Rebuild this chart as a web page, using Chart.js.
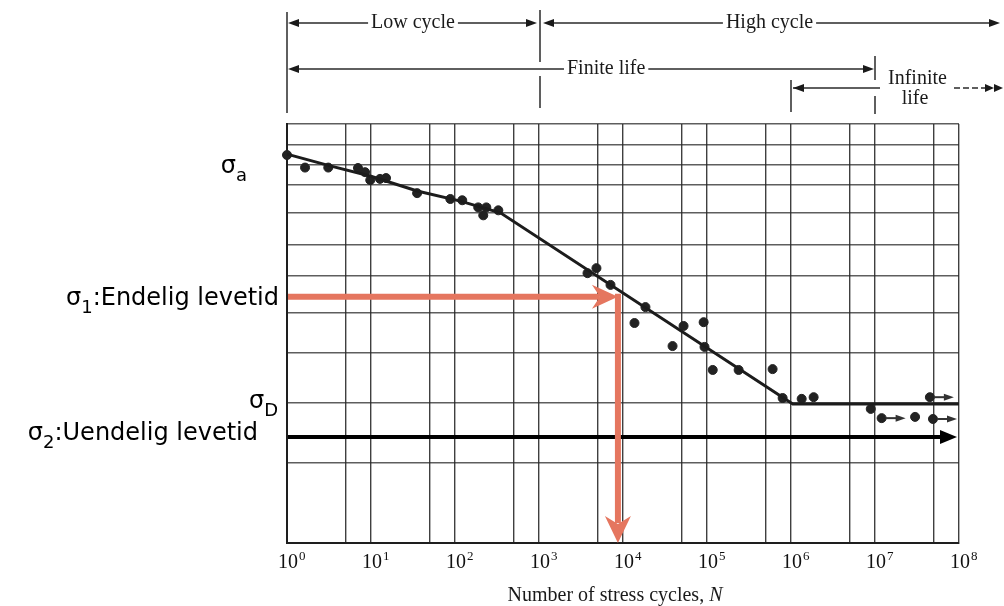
<!DOCTYPE html>
<html>
<head>
<meta charset="utf-8">
<script src="https://cdn.jsdelivr.net/npm/chart.js@4.4.1/dist/chart.umd.min.js"></script>
<style>
html, body { margin: 0; padding: 0; background: #fff; }
#wrap { width: 1004px; height: 606px; }
</style>
</head>
<body>
<div id="wrap"><canvas id="snChart" width="1004" height="606"></canvas></div>
<script>
// grid lines: cycles (log) and stress (arbitrary units, 0 = bottom, 100 = top)
const xGrid = [1, 5, 10, 50, 100, 500, 1e3, 5e3, 1e4, 5e4, 1e5, 5e5, 1e6, 5e6, 1e7, 5e7, 1e8];
const yGrid = [0, 19.1, 33.4, 45.3, 54.9, 63.7, 71.1, 78.8, 85.4, 90.2, 95, 100];
const decadeTicks = [1, 10, 100, 1e3, 1e4, 1e5, 1e6, 1e7, 1e8];
const decadeExp = ['0', '1', '2', '3', '4', '5', '6', '7', '8'];

// test results (failures)
const testN = [1, 1.64, 3.1, 7.0, 8.5, 9.8, 12.8, 15.1, 35.4, 88, 122, 189, 236, 217, 328,
  3780, 4830, 7100, 18500, 13700, 52600, 91200, 38900, 93400, 117000, 238000, 604000,
  795000, 1.34e6, 1.86e6, 8.9e6, 3.0e7];
const testS = [92.6, 89.6, 89.6, 89.5, 88.5, 86.6, 86.9, 87.1, 83.5, 82.1, 81.8, 80.1, 80.1, 78.2, 79.4,
  64.4, 65.6, 61.6, 56.3, 52.5, 51.8, 52.7, 47.0, 46.8, 41.3, 41.3, 41.5,
  34.6, 34.4, 34.8, 32.0, 30.1];
// run-outs (no failure, marked with arrow)
const runoutN = [1.2e7, 4.5e7, 4.9e7];
const runoutS = [29.8, 34.8, 29.6];

// S-N curve
const curveN = [1, 3.26, 9.77, 35.5, 116, 347, 1.05e6, 1e8];
const curveS = [92.8, 90.0, 87.6, 84.0, 81.6, 78.8, 33.2, 33.2];

// stress levels
const sigmaA = 92.8;
const sigma1 = 58.8;
const sigmaD = 33.2;
const sigma2 = 25.3;
const life1 = 8700;

const ink = '#1e1e1e';
const red = '#e5765f';
const serif = '"Liberation Serif", "DejaVu Serif", serif';
const sans = '"DejaVu Sans", Verdana, sans-serif';

function arrowHead(ctx, x, y, angle, len, half, notch) {
  ctx.save();
  ctx.translate(x, y);
  ctx.rotate(angle);
  ctx.beginPath();
  ctx.moveTo(0, 0);
  ctx.lineTo(-len, -half);
  ctx.lineTo(-len + notch, 0);
  ctx.lineTo(-len, half);
  ctx.closePath();
  ctx.fill();
  ctx.restore();
}

function seg(ctx, x1, y1, x2, y2) {
  ctx.beginPath();
  ctx.moveTo(x1, y1);
  ctx.lineTo(x2, y2);
  ctx.stroke();
}

// σ label with subscript, right aligned at xr
function sigmaLabel(ctx, sub, rest, xr, base) {
  ctx.font = '24px ' + sans;
  const wS = ctx.measureText('σ').width;
  const wR = ctx.measureText(rest).width;
  ctx.font = '18px ' + sans;
  const wSub = ctx.measureText(sub).width;
  let x = xr - wS - wSub - wR;
  ctx.textAlign = 'left';
  ctx.textBaseline = 'alphabetic';
  ctx.font = '24px ' + sans;
  ctx.fillText('σ', x, base);
  x += wS;
  ctx.font = '18px ' + sans;
  ctx.fillText(sub, x, base + 8);
  x += wSub;
  ctx.font = '24px ' + sans;
  ctx.fillText(rest, x, base);
}

// span line with centred text; heads: [left, right]
function span(ctx, x1, x2, y, label, cx, heads) {
  const w = label ? ctx.measureText(label).width : 0;
  if (label) {
    ctx.fillText(label, cx, y);
    seg(ctx, x1 + (heads[0] ? 6 : 0), y, cx - w / 2 - 3, y);
    seg(ctx, cx + w / 2 + 3, y, x2 - (heads[1] ? 6 : 0), y);
  } else {
    seg(ctx, x1, y, x2, y);
  }
  if (heads[0]) arrowHead(ctx, x1, y, Math.PI, 11, 4, 0);
  if (heads[1]) arrowHead(ctx, x2, y, 0, 11, 4, 0);
}

const overlay = {
  id: 'overlay',
  afterDatasetsDraw(chart) {
    const { ctx, chartArea: a, scales: { x, y } } = chart;
    const px = v => x.getPixelForValue(v);
    const py = v => y.getPixelForValue(v);
    ctx.save();

    // run-out arrows
    ctx.strokeStyle = '#333';
    ctx.fillStyle = '#333';
    ctx.lineWidth = 2;
    runoutN.forEach((n, i) => {
      const cx = px(n), cy = py(runoutS[i]);
      seg(ctx, cx + 4, cy, cx + 16, cy);
      arrowHead(ctx, cx + 24, cy, 0, 10, 3.5, 0);
    });

    // σ2 black arrow
    ctx.strokeStyle = '#000';
    ctx.fillStyle = '#000';
    ctx.lineWidth = 4;
    const y2 = py(sigma2);
    seg(ctx, a.left + 1, y2, a.right - 14, y2);
    arrowHead(ctx, a.right - 2, y2, 0, 17, 7, 0);

    // σ1 red arrows
    ctx.strokeStyle = red;
    ctx.fillStyle = red;
    ctx.lineWidth = 6;
    const y1 = py(sigma1), xv = px(life1);
    seg(ctx, a.left + 1, y1, xv - 18, y1);
    arrowHead(ctx, xv, y1, 0, 26, 12, 8);
    seg(ctx, xv, y1 - 3, xv, a.bottom - 20);
    arrowHead(ctx, xv, a.bottom, Math.PI / 2, 27, 13, 8);

    // left labels
    ctx.fillStyle = '#000';
    sigmaLabel(ctx, 'a', '', 247, py(sigmaA) + 19);
    sigmaLabel(ctx, '1', ':Endelig levetid', 279, y1 + 8);
    sigmaLabel(ctx, 'D', '', 278, py(sigmaD) + 4);
    sigmaLabel(ctx, '2', ':Uendelig levetid', 258, y2 + 3);

    // x tick labels 10^n
    ctx.fillStyle = '#111';
    ctx.textAlign = 'left';
    ctx.textBaseline = 'alphabetic';
    decadeTicks.forEach((v, i) => {
      const cx = px(v) + 1;
      ctx.font = '20px ' + serif;
      const w = ctx.measureText('10').width;
      ctx.fillText('10', cx - w / 2, 568);
      ctx.font = '13px ' + serif;
      ctx.fillText(decadeExp[i], cx + w / 2 + 1, 560);
    });

    // life regions above the plot
    ctx.strokeStyle = '#2a2a2a';
    ctx.fillStyle = '#1a1a1a';
    ctx.lineWidth = 1.5;
    ctx.font = '20px ' + serif;
    ctx.textAlign = 'center';
    ctx.textBaseline = 'middle';
    const x0 = px(1), x3 = px(1e3), x6 = px(1e6), x7 = px(1e7), xe = 1000;
    seg(ctx, x0, 12, x0, 113);
    seg(ctx, x3 + 1, 10, x3 + 1, 62);
    seg(ctx, x3 + 1, 76, x3 + 1, 108);
    span(ctx, x0 + 1, x3 - 2, 23, 'Low cycle', (x0 + x3) / 2, [1, 1]);
    span(ctx, x3 + 4, xe, 23, 'High cycle', (x3 + xe) / 2, [1, 1]);
    span(ctx, x0 + 1, x7 - 1, 69, 'Finite life', px(6300), [1, 1]);
    seg(ctx, x7, 56, x7, 80);
    seg(ctx, x7, 96, x7, 114);
    seg(ctx, x6, 80, x6, 112);
    seg(ctx, x6 + 2, 88, 880, 88);
    arrowHead(ctx, x6 + 2, 88, Math.PI, 11, 4, 0);
    ctx.fillText('Infinite', px(3.2e7), 79);
    ctx.fillText('life', px(3.0e7), 99);
    ctx.setLineDash([6, 3]);
    seg(ctx, 954, 88, xe - 8, 88);
    ctx.setLineDash([]);
    arrowHead(ctx, xe - 6, 88, 0, 9, 4, 0);
    arrowHead(ctx, xe + 3, 88, 0, 9, 4, 0);

    // x title
    ctx.textBaseline = 'alphabetic';
    ctx.textAlign = 'left';
    const t1 = 'Number of stress cycles, ';
    ctx.font = 'italic 20px ' + serif;
    const wN = ctx.measureText('N').width;
    ctx.font = '20px ' + serif;
    const w1 = ctx.measureText(t1).width;
    const tx = (a.left + a.right) / 2 - 8 - (w1 + wN) / 2;
    ctx.fillText(t1, tx, 601);
    ctx.font = 'italic 20px ' + serif;
    ctx.fillText('N', tx + w1, 601);

    ctx.restore();
  }
};

new Chart(document.getElementById('snChart'), {
  type: 'scatter',
  data: {
    datasets: [
      {
        type: 'line',
        data: curveN.map((n, i) => ({ x: n, y: curveS[i] })),
        borderColor: '#1c1c1c',
        borderWidth: 3,
        pointRadius: 0,
        tension: 0,
        clip: false
      },
      {
        data: testN.map((n, i) => ({ x: n, y: testS[i] })),
        backgroundColor: '#222',
        borderColor: '#222',
        pointRadius: 4.5,
        clip: false
      },
      {
        data: runoutN.map((n, i) => ({ x: n, y: runoutS[i] })),
        backgroundColor: '#222',
        borderColor: '#222',
        pointRadius: 4.5,
        clip: false
      }
    ]
  },
  options: {
    responsive: false,
    animation: false,
    layout: { padding: { left: 287, right: 45, top: 124, bottom: 63 } },
    plugins: { legend: { display: false }, tooltip: { enabled: false } },
    scales: {
      x: {
        type: 'logarithmic',
        min: 1,
        max: 1e8,
        afterBuildTicks: scale => { scale.ticks = xGrid.map(v => ({ value: v })); },
        ticks: { display: false },
        grid: { color: 'rgba(30,30,30,0.85)', lineWidth: 1.4, drawTicks: false },
        border: { color: ink, width: 2 }
      },
      y: {
        min: 0,
        max: 100,
        afterBuildTicks: scale => { scale.ticks = yGrid.map(v => ({ value: v })); },
        ticks: { display: false },
        grid: { color: 'rgba(40,40,40,0.75)', lineWidth: 1.4, drawTicks: false },
        border: { color: ink, width: 2 }
      }
    }
  },
  plugins: [overlay]
});
</script>
</body>
</html>
